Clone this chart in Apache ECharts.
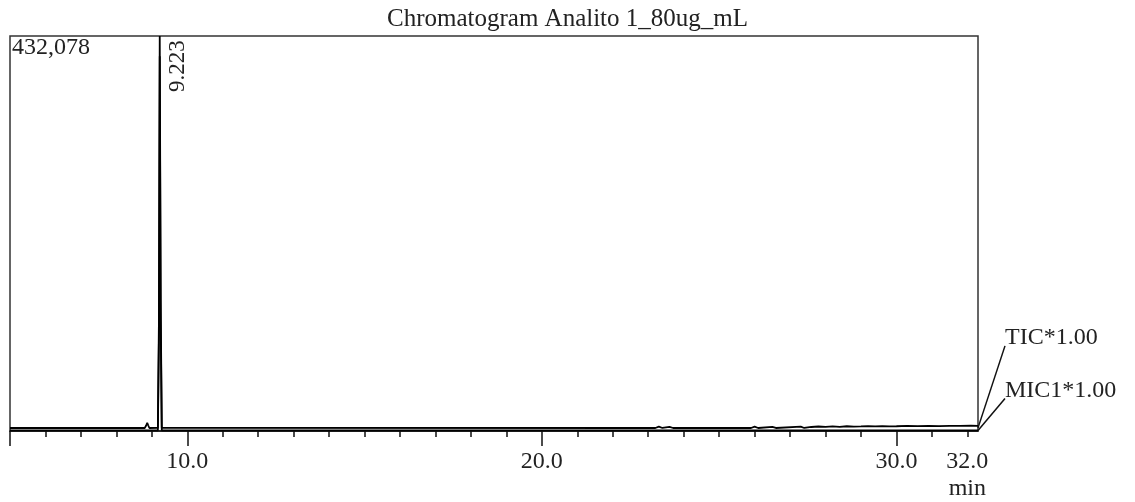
<!DOCTYPE html>
<html>
<head>
<meta charset="utf-8">
<script src="https://cdn.jsdelivr.net/npm/echarts@6/dist/echarts.min.js"></script>
<style>
  html, body { margin: 0; padding: 0; background: #fff; }
  #main { width: 1135px; height: 502px; }
</style>
</head>
<body>
<div id="main"></div>
<script>
// retention time (min) / intensity
const ticTime = [5.0, 8.80, 8.84, 8.87, 8.90, 8.93, 9.17, 9.20, 9.223, 9.25, 9.28,
    23.2, 23.3, 23.4, 23.6, 23.7, 25.9, 26.0, 26.1, 26.5, 26.6, 27.3, 27.4, 27.6, 27.8,
    28.0, 28.2, 28.4, 28.6, 28.8, 29.0, 29.2, 29.4, 29.6, 29.8, 30.0, 30.3, 30.6, 30.9,
    31.2, 31.5, 31.8, 32.1, 32.3];
const ticValue = [3300, 3300, 6000, 8800, 6000, 3300, 3400, 120000, 432078, 140000, 3500,
    3300, 4800, 3300, 4600, 3300, 3300, 4700, 3300, 4500, 3300, 4800, 3300, 4400, 4900,
    4600, 5000, 4600, 5200, 4800, 5000, 5300, 5000, 5400, 5100, 5200, 5500, 5300, 5600,
    5400, 5700, 5500, 5800, 5600];

const micTime = [5.0, 9.17, 9.20, 9.223, 9.25, 9.28, 32.3];
const micValue = [600, 600, 100000, 410000, 120000, 700, 600];

const minorTicks = [5, 6, 7, 8, 9, 10, 11, 12, 13, 14, 15, 16, 17, 18, 19, 20,
    21, 22, 23, 24, 25, 26, 27, 28, 29, 30, 31, 32];
const majorTicks = [5, 10, 20, 30];
const tickLabels = [10, 20, 30, 32];
const yMax = 432078;
const peakTime = 9.223;

const seriesNames = ['TIC*1.00', 'MIC1*1.00'];

function pairs(xs, ys) {
    return xs.map((x, i) => [x, ys[i]]);
}

const font = '"Liberation Serif", "DejaVu Serif", serif';

const chart = echarts.init(document.getElementById('main'));

const option = {
    animation: false,
    title: {
        text: 'Chromatogram Analito 1_80ug_mL',
        left: 'center',
        top: 2,
        textStyle: { fontFamily: font, fontSize: 25, fontWeight: 'normal', color: '#222' }
    },
    grid: {
        left: 10, right: 157, top: 36, bottom: 70,
        show: true, borderColor: '#333', borderWidth: 1.5
    },
    xAxis: [
        {
            type: 'value', min: 5, max: 32.3,
            axisLine: { lineStyle: { color: '#111', width: 1.5 } },
            axisTick: { customValues: minorTicks, length: 6, lineStyle: { color: '#111', width: 1.5 } },
            axisLabel: { show: false },
            splitLine: { show: false }
        },
        {
            type: 'value', min: 5, max: 32.3, position: 'bottom',
            axisLine: { show: false },
            axisTick: { customValues: majorTicks, length: 15, lineStyle: { color: '#111', width: 1.5 } },
            axisLabel: {
                customValues: tickLabels,
                margin: 17,
                fontFamily: font, fontSize: 24, color: '#222', lineHeight: 27,
                formatter: v => v === 32 ? '32.0\nmin' : v.toFixed(1)
            },
            splitLine: { show: false }
        }
    ],
    yAxis: {
        type: 'value', min: 0, max: yMax,
        axisLine: { show: false },
        axisTick: { show: false },
        splitLine: { show: false },
        axisLabel: {
            inside: true,
            customValues: [yMax],
            margin: 2,
            verticalAlign: 'top',
            fontFamily: font, fontSize: 24, color: '#222',
            formatter: v => v.toLocaleString('en-US')
        }
    },
    series: [
        {
            name: seriesNames[0], type: 'line', xAxisIndex: 0,
            data: pairs(ticTime, ticValue),
            showSymbol: false, symbol: 'none',
            lineStyle: { color: '#000', width: 1.8 },
            markPoint: {
                symbol: 'circle', symbolSize: 0,
                label: {
                    show: true, formatter: peakTime.toFixed(3), rotate: 90,
                    offset: [-30, 18],
                    fontFamily: font, fontSize: 23, color: '#222'
                },
                data: [{ coord: [peakTime, yMax] }]
            }
        },
        {
            name: seriesNames[1], type: 'line', xAxisIndex: 0,
            data: pairs(micTime, micValue),
            showSymbol: false, symbol: 'none',
            lineStyle: { color: '#000', width: 1.8 }
        }
    ]
};

chart.setOption(option);

// leader lines from the end of each trace to its name
const tEnd = chart.convertToPixel({ gridIndex: 0 }, [ticTime[ticTime.length - 1], ticValue[ticValue.length - 1]]);
const mEnd = chart.convertToPixel({ gridIndex: 0 }, [micTime[micTime.length - 1], micValue[micValue.length - 1]]);
const labelX = tEnd[0] + 27;
const tY = tEnd[1] - 88;
const mY = mEnd[1] - 40;

chart.setOption({
    graphic: [
        { type: 'line', shape: { x1: tEnd[0], y1: tEnd[1] + 2, x2: labelX, y2: tY + 8 }, style: { stroke: '#111', lineWidth: 1.5 } },
        { type: 'line', shape: { x1: mEnd[0], y1: mEnd[1], x2: labelX, y2: mY + 8 }, style: { stroke: '#111', lineWidth: 1.5 } },
        { type: 'text', x: labelX, y: tY, style: { text: seriesNames[0], font: '24px ' + font, fill: '#222', verticalAlign: 'middle' } },
        { type: 'text', x: labelX, y: mY, style: { text: seriesNames[1], font: '24px ' + font, fill: '#222', verticalAlign: 'middle' } }
    ]
});
</script>
</body>
</html>
